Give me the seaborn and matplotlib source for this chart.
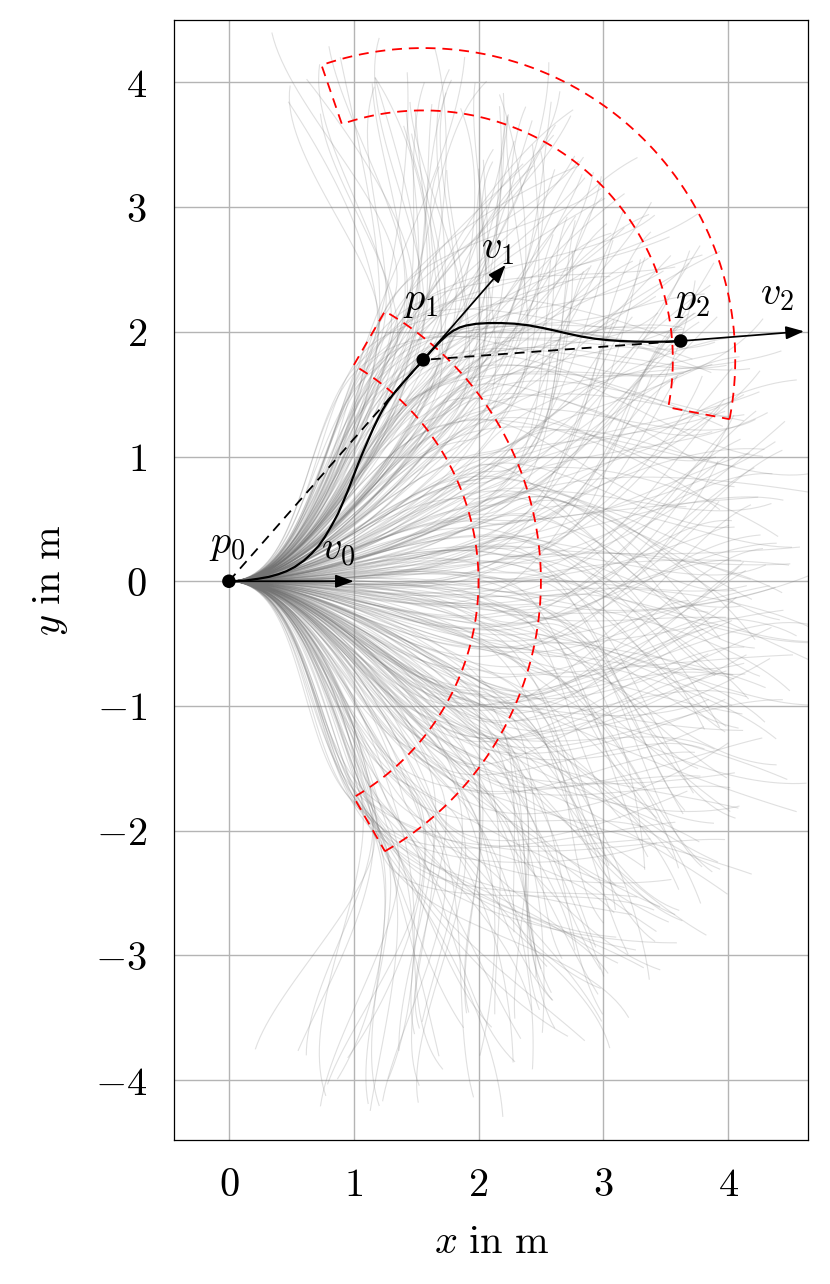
import numpy as np
import seaborn as sns
import matplotlib.pyplot as plt
from matplotlib.collections import LineCollection


# ----- waypoints and velocities ----- #
point_x = [0.0, 1.557, 3.62]
point_y = [0.0, 1.775, 1.926]
vel_x = [1.0, 0.66, 0.988]
vel_y = [0.0, 0.76, 0.078]
point_labels = ['$p_0$', '$p_1$', '$p_2$']
vel_labels = ['$v_0$', '$v_1$', '$v_2$']

# ----- planned path ----- #
path_x = [0.0, 0.12, 0.235, 0.32, 0.395, 0.46, 0.528, 0.6, 0.662, 0.72,
          0.769, 0.825, 0.875, 0.915, 0.955, 0.995, 1.035, 1.075, 1.115, 1.155,
          1.195, 1.235, 1.275, 1.315, 1.356, 1.41, 1.463, 1.51, 1.557, 1.605,
          1.65, 1.70, 1.75, 1.80, 1.85, 1.90, 1.98, 2.077, 2.18, 2.29,
          2.40, 2.503, 2.61, 2.717, 2.82, 2.93, 3.04, 3.144, 3.25, 3.357,
          3.49, 3.62]
path_y = [0.0, 0.004, 0.02, 0.035, 0.056, 0.08, 0.115, 0.165, 0.222, 0.285,
          0.355, 0.45, 0.543, 0.635, 0.73, 0.835, 0.94, 1.037, 1.13, 1.222,
          1.305, 1.38, 1.443, 1.497, 1.547, 1.609, 1.669, 1.722, 1.775, 1.828,
          1.878, 1.93, 1.975, 2.01, 2.035, 2.05, 2.064, 2.07, 2.07, 2.065,
          2.052, 2.033, 2.01, 1.985, 1.963, 1.945, 1.933, 1.926, 1.922, 1.92,
          1.921, 1.926]

# ----- sampling sectors (inner / outer radius, half opening in deg) ----- #
sector_r_in = 2.0
sector_r_out = 2.5
sector_half = 60.0

# ----- sampled trajectories: first stage (from p0) ----- #
fan_angle = [-57, 14, -31, 46, -8, 33, -49, 3, 58, -22, 25, -41, 51, -14, 8,
             -60, 38, -3, 19, -36, 55, -27, 42]
fan_jitter = [0.0, 1.7, -2.1, 0.9, -0.6, 2.4, -1.4, 0.4, -2.5, 1.2, -0.2, 2.0,
              -1.8, 0.7, -1.0, 2.6, -2.3]
fan_radius = [2.08, 2.41, 2.19, 2.47, 2.03, 2.30, 2.13]
fan_dev = [-19, 8, -4, 23, -13, 2, 16, -24, 11, -8, 20]

# ----- sampled trajectories: second stage (from first stage end) ----- #
branch_angle = [-47, 11, -30, 40, -6, 52, -38, 24, -17, 33, 1, -53, 46]
branch_radius = [2.12, 2.44, 2.27, 2.02, 2.36]
branch_dev = [14, -20, 5, 26, -9, -24, 19, -2, 10]


def unit(deg):
    rad = np.deg2rad(deg)
    return np.array([np.cos(rad), np.sin(rad)])


def hermite(p_a, m_a, p_b, m_b, n=40):
    t = np.linspace(0, 1, n)[:, None]
    h00 = 2 * t**3 - 3 * t**2 + 1
    h10 = t**3 - 2 * t**2 + t
    h01 = -2 * t**3 + 3 * t**2
    h11 = t**3 - t**2
    return h00 * p_a + h10 * m_a + h01 * p_b + h11 * m_b


def sector_outline(cx, cy, heading):
    a_out = np.linspace(heading - sector_half, heading + sector_half, 80)
    a_in = a_out[::-1]
    xs = np.concatenate([cx + sector_r_out * np.cos(np.deg2rad(a_out)),
                         cx + sector_r_in * np.cos(np.deg2rad(a_in))])
    ys = np.concatenate([cy + sector_r_out * np.sin(np.deg2rad(a_out)),
                         cy + sector_r_in * np.sin(np.deg2rad(a_in))])
    return np.append(xs, xs[0]), np.append(ys, ys[0])


def sample_segments():
    start = np.array([point_x[0], point_y[0]])
    h0 = np.rad2deg(np.arctan2(vel_y[0], vel_x[0]))
    segs = []
    n = len(fan_angle) * len(fan_jitter)
    for i in range(n):
        a = np.clip(fan_angle[i % len(fan_angle)]
                    + fan_jitter[(i // len(fan_angle)) % len(fan_jitter)], -60, 60)
        r = fan_radius[i % len(fan_radius)]
        h = h0 + a + fan_dev[i % len(fan_dev)]
        q = start + r * unit(h0 + a)
        segs.append(hermite(start, 0.9 * r * unit(h0), q, 0.9 * r * unit(h)))

        # second stage: direction measured from the sample's bearing
        b = h0 + a + branch_angle[i % len(branch_angle)]
        r2 = branch_radius[i % len(branch_radius)]
        q2 = q + r2 * unit(b)
        h2 = b + branch_dev[i % len(branch_dev)]
        segs.append(hermite(q, 0.9 * r2 * unit(h), q2, 0.9 * r2 * unit(h2)))
    return segs


def main():
    sns.set_theme(style='whitegrid')
    plt.rcParams['mathtext.fontset'] = 'cm'
    plt.rcParams['font.family'] = ['DejaVu Serif']
    plt.rcParams['text.color'] = 'black'
    plt.rcParams['axes.labelcolor'] = 'black'

    fig = plt.figure(figsize=(8.3, 12.84), dpi=100)
    ax = fig.add_axes([174 / 830, 1 - 1140 / 1284, 634 / 830, 1120 / 1284])

    # ----- sampled trajectories ----- #
    lc = LineCollection(sample_segments(), colors='0.45', linewidths=0.8,
                        alpha=0.22, zorder=1)
    ax.add_collection(lc)

    # ----- sampling sectors ----- #
    for k in range(2):
        heading = np.rad2deg(np.arctan2(vel_y[k], vel_x[k]))
        sx, sy = sector_outline(point_x[k], point_y[k], heading)
        ax.plot(sx, sy, color='red', lw=1.3, ls=(0, (5.5, 3.8)), zorder=2)

    # ----- straight connections ----- #
    ax.plot(point_x, point_y, color='black', lw=1.3, ls=(0, (5.5, 3.8)), zorder=3)

    # ----- planned path ----- #
    sns.lineplot(x=path_x, y=path_y, sort=False, estimator=None, color='black',
                 lw=1.6, ax=ax, zorder=4)

    # ----- velocity arrows ----- #
    for k in range(3):
        ax.annotate('', xy=(point_x[k] + vel_x[k], point_y[k] + vel_y[k]),
                    xytext=(point_x[k], point_y[k]),
                    arrowprops=dict(arrowstyle='-|>,head_length=0.55,head_width=0.2',
                                    color='black', lw=1.25, shrinkA=0, shrinkB=0,
                                    mutation_scale=20),
                    zorder=5)

    # ----- waypoints ----- #
    sns.scatterplot(x=point_x, y=point_y, color='black', s=95, edgecolor='none',
                    ax=ax, zorder=6)

    # ----- labels ----- #
    point_off = [(-1, 13), (-2, 29), (8.5, 15)]
    vel_off = [(-11, 9), (-6, -1.5), (-19.5, 13)]
    for k in range(3):
        ax.annotate(point_labels[k], xy=(point_x[k], point_y[k]),
                    xytext=point_off[k], textcoords='offset points',
                    ha='center', va='bottom', fontsize=29, zorder=7)
        ax.annotate(vel_labels[k],
                    xy=(point_x[k] + vel_x[k], point_y[k] + vel_y[k]),
                    xytext=vel_off[k], textcoords='offset points',
                    ha='center', va='bottom', fontsize=29, zorder=7)

    # ----- axes ----- #
    ax.set_xlim(-0.44, 4.64)
    ax.set_ylim(-4.48, 4.50)
    xticks = [0, 1, 2, 3, 4]
    yticks = [-4, -3, -2, -1, 0, 1, 2, 3, 4]
    ax.set_xticks(xticks)
    ax.set_yticks(yticks)
    ax.set_xticklabels([f'${t}$' for t in xticks])
    ax.set_yticklabels([f'${t}$' for t in yticks])
    ax.set_xlabel(r'$x\ \mathrm{in\ m}$', fontsize=29, labelpad=14)
    ax.set_ylabel(r'$y\ \mathrm{in\ m}$', fontsize=29, labelpad=18)
    ax.tick_params(direction='out', length=11.5, width=0.8, color='0.3',
                   pad=8, labelsize=29, labelcolor='black')
    ax.grid(True, color='#b4b4b4', lw=1.0)
    ax.set_axisbelow(True)
    for spine in ax.spines.values():
        spine.set_color('black')
        spine.set_linewidth(0.9)
        spine.set_zorder(8)

    fig.savefig('out.png', dpi=100, facecolor='white')


if __name__ == '__main__':
    main()
